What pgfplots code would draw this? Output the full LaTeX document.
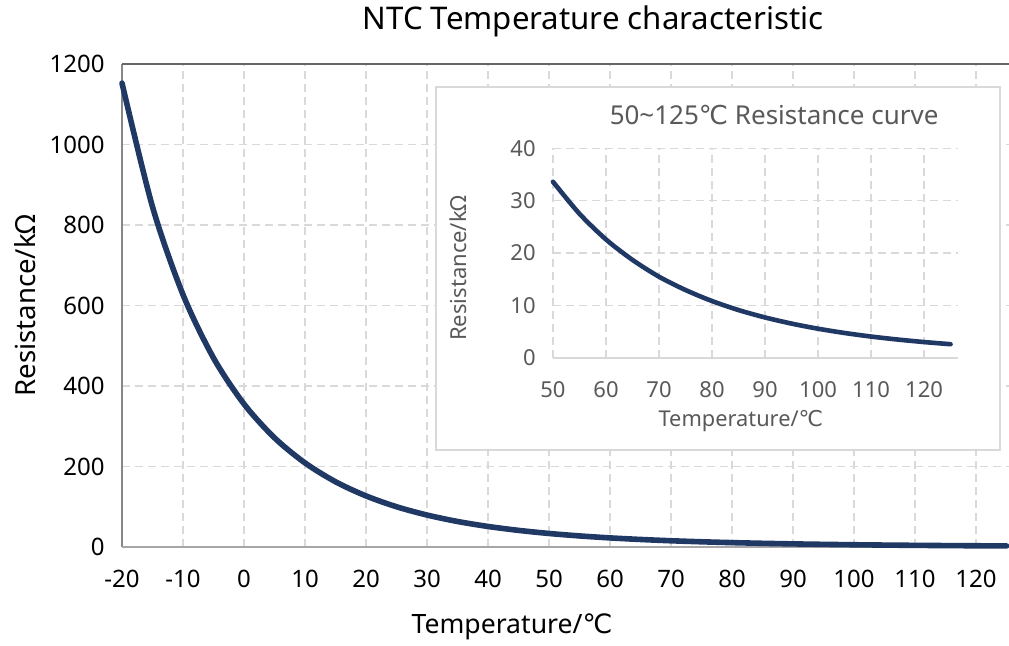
\documentclass[border=0pt]{standalone}
\usepackage{fontspec}
\setmainfont{Noto Sans}
\newfontfamily\djv{DejaVu Sans}
\newcommand{\degC}{{\djv ℃}}
\newcommand{\fs}[1]{\fontsize{#1}{#1}\selectfont}
\usepackage{pgfplots}
\usepackage{pgfplotstable}
\pgfplotsset{compat=1.18}
\definecolor{curvec}{HTML}{1F3864}
\definecolor{gridc}{HTML}{D9D9D9}
\definecolor{intxt}{HTML}{595959}

\pgfplotstableread{
T R
-20 1152.5
-15 845.3
-10 627.0
-5 469.7
0 355.3
5 271.2
10 208.9
15 162.1
20 126.9
25 100.0
30 79.4
35 63.4
40 51.0
45 41.3
50 33.6
55 27.5
60 22.6
65 18.7
70 15.5
75 12.96
80 10.86
85 9.14
90 7.73
95 6.56
100 5.58
105 4.77
110 4.09
115 3.52
120 3.04
125 2.63
}\maindata

\pgfplotstableread{
T R
50 33.6
55 27.5
60 22.6
65 18.7
70 15.5
75 12.96
80 10.86
85 9.14
90 7.73
95 6.56
100 5.58
105 4.77
110 4.09
115 3.52
120 3.04
125 2.63
}\insetdata

\begin{document}
\begin{tikzpicture}
\path[use as bounding box] (0,0) rectangle (504.5pt,-323pt);
\begin{axis}[
  at={(61pt,-273.5pt)}, anchor=south west,
  scale only axis, width=443.5pt, height=241.5pt,
  xmin=-20, xmax=125.4, ymin=0, ymax=1200,
  xtick={-20,-10,...,120}, ytick={0,200,...,1200},
  major tick length=0pt,
  axis line style={draw=none},
  grid=major,
  major grid style={gridc, line width=0.7pt, dash pattern=on 4pt off 2.5pt},
  /pgf/number format/assume math mode=true,
  /pgf/number format/1000 sep={},
  ticklabel style={font=\fs{12}, inner sep=0pt},
  yticklabel style={anchor=east, xshift=-8.5pt},
  xticklabel style={anchor=north, yshift=-11.5pt},
  clip=false,
  every axis title shift=0pt,
  title={NTC Temperature characteristic},
  title style={font=\fs{15.6}, at={(axis description cs:0.531,1.089)}, anchor=center, inner sep=0pt},
  xlabel={Temperature/\degC},
  xlabel style={font=\fs{13.3}, at={(axis description cs:0.4397,-0.1655)}, anchor=center, inner sep=0pt},
  ylabel={Resistance/kΩ},
  ylabel style={font=\fs{13.8}, at={(axis description cs:-0.1094,0.5)}, rotate=0, anchor=center, inner sep=0pt},
]
\draw[color=black!47, line width=1pt] (rel axis cs:0,0) -- (rel axis cs:0,1);
\draw[color=black!60, line width=1.2pt] (rel axis cs:0,1) -- (rel axis cs:1,1);
\draw[color=black!35, line width=1pt] (rel axis cs:0,0) -- (rel axis cs:1,0);
\addplot[curvec, line width=2.8pt, smooth, line cap=round] table[x=T, y=R] {\maindata};
\end{axis}

\draw[gridc, fill=white, line width=0.8pt] (218pt,-43.5pt) rectangle (500pt,-225pt);

\begin{axis}[
  at={(276.5pt,-179pt)}, anchor=south west,
  scale only axis, width=202.5pt, height=104.9pt,
  xmin=50, xmax=126.4, ymin=0, ymax=40,
  xtick={50,60,...,120}, ytick={0,10,...,40},
  major tick length=0pt,
  axis line style={draw=none},
  grid=major,
  major grid style={gridc, line width=0.7pt, dash pattern=on 4pt off 2.5pt},
  /pgf/number format/assume math mode=true,
  ticklabel style={font=\fs{11}, inner sep=0pt, text=intxt},
  yticklabel style={anchor=east, xshift=-8.5pt},
  xticklabel style={anchor=north, yshift=-11.5pt},
  clip=false,
  every axis title shift=0pt,
  title={50\textasciitilde125\degC\ Resistance curve},
  title style={font=\fs{13}, text=intxt, at={(axis description cs:0.546,1.159)}, anchor=center, inner sep=0pt},
  xlabel={Temperature/\degC},
  xlabel style={font=\fs{10.9}, text=intxt, at={(axis description cs:0.464,-0.3)}, anchor=center, inner sep=0pt},
  ylabel={Resistance/kΩ},
  ylabel style={font=\fs{11}, text=intxt, at={(axis description cs:-0.2346,0.429)}, rotate=0, anchor=center, inner sep=0pt},
]
\draw[color=gridc, line width=0.8pt] (rel axis cs:0,0) -- (rel axis cs:1,0);
\addplot[curvec, line width=2.3pt, smooth, line cap=round] table[x=T, y=R] {\insetdata};
\end{axis}
\end{tikzpicture}
\end{document}
